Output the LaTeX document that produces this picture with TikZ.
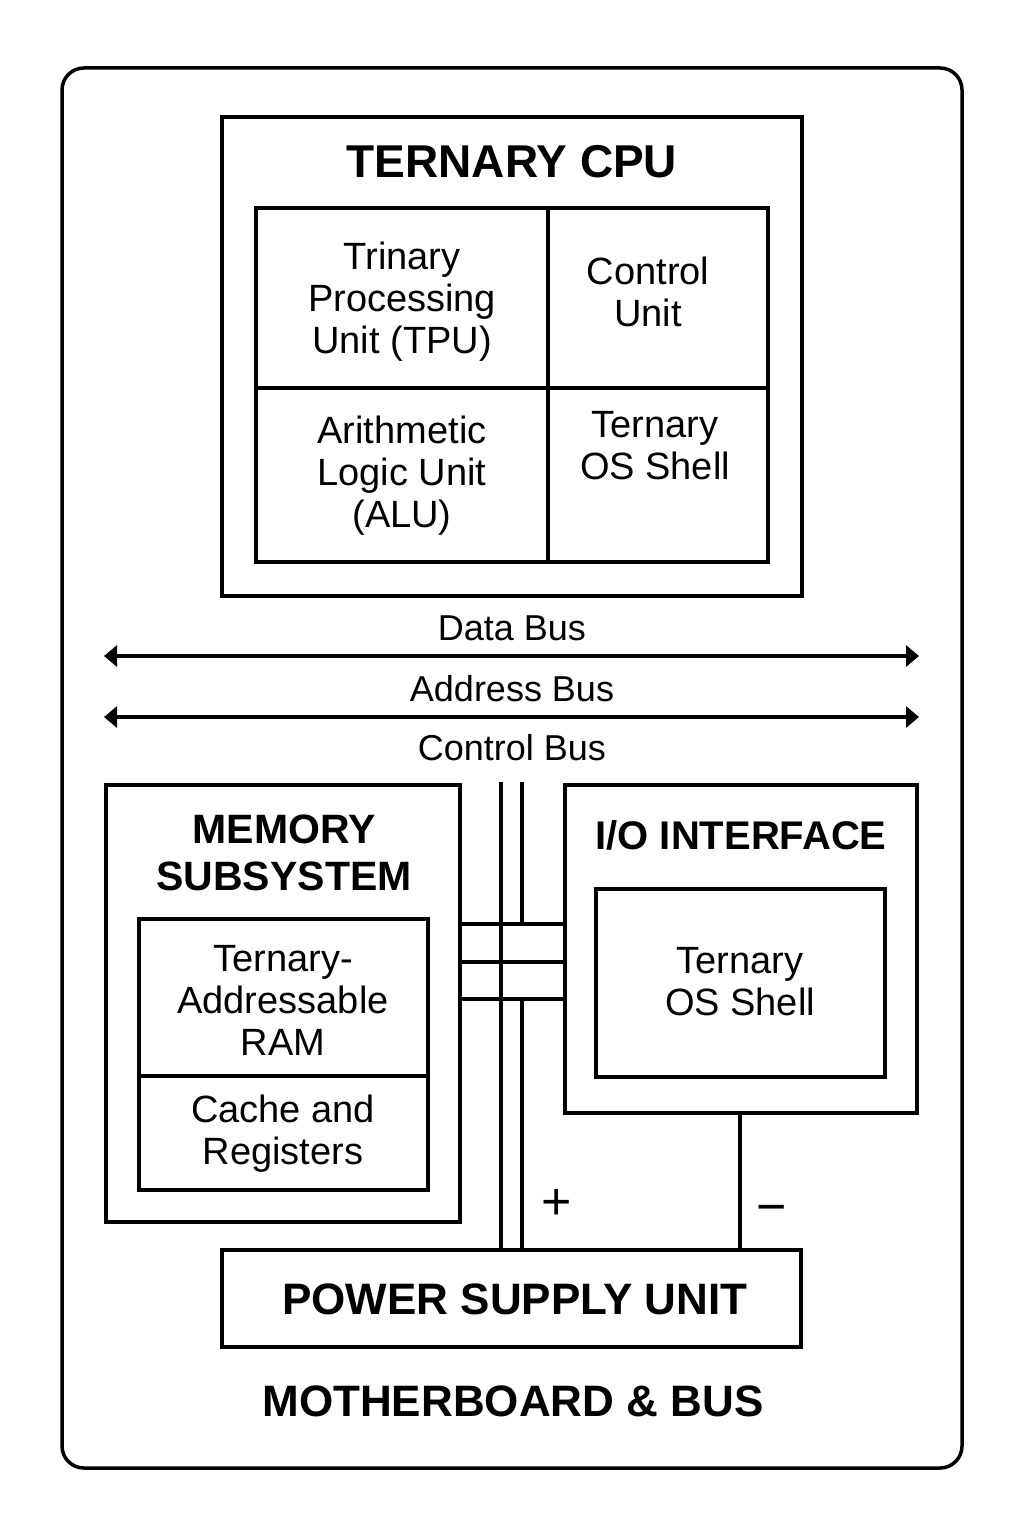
\documentclass[tikz,border=0pt]{standalone}
\usepackage{fontspec}
\setmainfont{Liberation Sans}
\usetikzlibrary{arrows.meta,calc}
\begin{document}
\begin{tikzpicture}[x=1pt,y=-1pt,
  box/.style={draw, line width=3.5pt, rectangle, inner sep=0pt, outer sep=0pt},
  body/.style={align=center, font=\fontsize{38}{42}\selectfont, inner sep=0pt},
  heading/.style={align=center, font=\bfseries\fontsize{#1}{47}\selectfont, inner sep=0pt},
  buslabel/.style={font=\fontsize{36}{40}\selectfont, inner sep=0pt},
  sign/.style={font=\fontsize{52}{52}\selectfont, inner sep=0pt},
  bus/.style={line width=3.2pt, {Triangle[length=13pt,width=21pt]}-{Triangle[length=13pt,width=21pt]}},
  wire/.style={line width=3.2pt}]
\useasboundingbox (0,0) rectangle (1024,1536);
% outer board
\node[box, rounded corners=22pt, minimum width=900pt, minimum height=1400pt] (board) at (512,768) {};
% CPU
\node[box, minimum width=580pt, minimum height=479pt] (cpu) at (512,356.5) {};
\node[box, minimum width=292pt, minimum height=180pt] (tpu) at (402,298) {};
\node[box, minimum width=220pt, minimum height=180pt] (cu) at (658,298) {};
\node[box, minimum width=292pt, minimum height=174pt] (alu) at (402,475) {};
\node[box, minimum width=220pt, minimum height=174pt] (os) at (658,475) {};
\node[heading=46] (cputitle) at (512,162) {TERNARY CPU};
\node[body] (tputext) at (402,302) {Trinary\\Processing\\Unit (TPU)};
\node[body] (cutext) at (648,292) {Control\\Unit};
\node[body] (alutext) at (402,476) {Arithmetic\\Logic Unit\\(ALU)};
\node[body] (ostext) at (655,446) {Ternary\\OS Shell};
% buses
\coordinate (dL) at (104,656); \coordinate (dR) at (919,656);
\coordinate (aL) at (104,717); \coordinate (aR) at (919,717);
\draw[bus] (dL) -- (dR);
\draw[bus] (aL) -- (aR);
\node[buslabel] (dbus) at (512,628) {Data Bus};
\node[buslabel] (abus) at (512,689) {Address Bus};
\node[buslabel] (cbus) at (512,748) {Control Bus};
% memory
\node[box, minimum width=354pt, minimum height=437pt] (mem) at (283,1003.5) {};
\node[box, minimum width=289pt, minimum height=157pt] (ram) at (283.5,997.5) {};
\node[box, minimum width=289pt, minimum height=114pt] (cache) at (283.5,1133) {};
\node[heading=41] (memtitle) at (284,853) {MEMORY\\SUBSYSTEM};
\node[body] (ramtext) at (283,1000) {Ternary-\\Addressable\\RAM};
\node[body] (cachetext) at (283,1134) {Cache and\\Registers};
% I/O
\node[box, minimum width=352pt, minimum height=328pt] (io) at (741,949) {};
\node[box, minimum width=289pt, minimum height=188pt] (ioos) at (740.5,983) {};
\node[heading=40] (iotitle) at (741,835) {I/O INTERFACE};
\node[body] (ioostext) at (740,982) {Ternary\\OS Shell};
% PSU
\node[box, minimum width=579pt, minimum height=97pt] (psu) at (511.5,1298.5) {};
\node[heading=44] (psutext) at (515,1299) {POWER SUPPLY UNIT};
\node[heading=44] (boardtitle) at (513,1401) {MOTHERBOARD \& BUS};
% control bus wires
\coordinate (v1top) at (501,782);
\coordinate (v2top) at (522,782);
\coordinate (h1) at (0,924);
\coordinate (h2) at (0,962);
\coordinate (h3) at (0,999);
\coordinate (vm) at (740,0);
\draw[wire] (v1top) -- (v1top |- psu.north);
\draw[wire] (v2top) -- (v2top |- h1);
\draw[wire] (v2top |- h3) -- (v2top |- psu.north);
\draw[wire] (mem.east |- h1) -- (io.west |- h1);
\draw[wire] (mem.east |- h2) -- (io.west |- h2);
\draw[wire] (mem.east |- h3) -- (io.west |- h3);
\draw[wire] (io.south -| vm) -- (psu.north -| vm);
\node[sign] (plus) at (557,1204) {+};
\node[sign] (minus) at (772,1215) {−};
\end{tikzpicture}
\end{document}
